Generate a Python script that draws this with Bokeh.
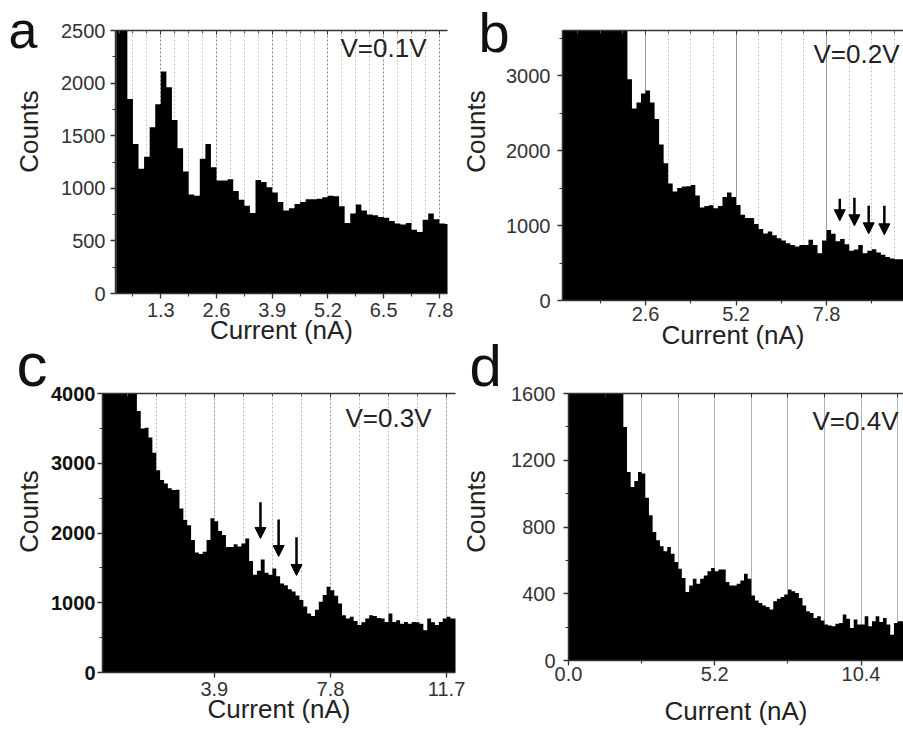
import numpy as np
from bokeh.plotting import figure
from bokeh.layouts import row, column
from bokeh.models import (FixedTicker, NumeralTickFormatter, Label, Arrow, NormalHead,
                          ColumnDataSource, LinearAxis, Range1d)
from bokeh.embed import file_html
from bokeh.resources import INLINE

FONT = "Liberation Sans"
PAGE_W, PAGE_H = 903, 729

# ---------------- data (histogram counts) ----------------
bin_width = 0.13  # nA

a_start = 0.26
a_counts = [2950, 2600, 1850, 1420, 1185, 1300, 1580, 1800, 2110, 1960,
            1650, 1380, 1160, 940, 930, 1280, 1420, 1200, 1075, 1075,
            1085, 975, 890, 835, 765, 1080, 1060, 1010, 960, 870,
            790, 810, 850, 870, 895, 895, 900, 915, 930, 925,
            830, 670, 760, 845, 790, 750, 745, 726, 720, 690,
            665, 655, 670, 605, 585, 700, 760, 705, 665, 660]

b_start = 0.13
b_counts = [4000, 4000, 4000, 4000, 4000, 4000, 4000, 4000, 4000, 4000,
            4000, 4000, 4000, 4000, 3800, 2950, 2560, 2640, 2760, 2800,
            2640, 2420, 2080, 1830, 1560, 1455, 1500, 1520, 1525, 1540,
            1400, 1240, 1260, 1270, 1230, 1260, 1380, 1440, 1380, 1275,
            1145, 1100, 1100, 1020, 955, 895, 920, 870, 830, 800,
            765, 740, 720, 740, 740, 810, 740, 630, 800, 940,
            890, 790, 820, 750, 665, 680, 740, 630, 665, 685,
            640, 610, 580, 560, 550, 550]

c_start = 0.13
c_counts = [4500, 4500, 4500, 4500, 4500, 4500, 4500, 4500, 4500, 3750,
            3500, 3510, 3370, 3150, 2900, 2760, 2710, 2640, 2615, 2620,
            2350, 2185, 2110, 1900, 1720, 1700, 1730, 1900, 2210, 2170,
            2030, 1970, 1800, 1800, 1840, 1805, 1850, 1920, 1600, 1400,
            1460, 1620, 1430, 1400, 1490, 1380, 1275, 1250, 1195, 1160,
            1105, 1040, 945, 845, 810, 900, 1015, 1110, 1230, 1180,
            1100, 990, 820, 775, 800, 740, 680, 720, 775, 820,
            810, 780, 775, 725, 845, 725, 750, 700, 725, 700,
            725, 720, 700, 605, 775, 720, 680, 725, 775, 800,
            775, 775]

d_start = 0.0
d_counts = [2000, 2000, 2000, 2000, 2000, 2000, 2000, 2000, 2000, 2000,
            2000, 2000, 2000, 2000, 2000, 1400, 1130, 1040, 1075, 1130,
            1120, 975, 870, 770, 720, 685, 655, 680, 640, 590,
            550, 495, 410, 450, 490, 460, 490, 510, 535, 555,
            535, 545, 545, 470, 450, 450, 460, 480, 520, 490,
            390, 360, 345, 330, 320, 305, 355, 370, 380, 395,
            425, 415, 405, 375, 330, 295, 285, 255, 265, 240,
            215, 210, 205, 220, 225, 275, 250, 195, 245, 215,
            215, 265, 205, 235, 265, 230, 255, 215, 155, 225,
            235, 235]

# arrows (x in nA, start / end in counts)
b_arrow_x = [8.18, 8.60, 9.01, 9.46]
b_arrow_y0 = [1357, 1370, 1263, 1263]
b_arrow_y1 = [1063, 996, 889, 876]
c_arrow_x = [5.45, 6.06, 6.66]
c_arrow_y0 = [2442, 2194, 1940]
c_arrow_y1 = [1922, 1663, 1391]

# tick labels / positions
a_xticks = [1.3, 2.6, 3.9, 5.2, 6.5, 7.8]
b_xticks = [2.6, 5.2, 7.8]
c_xticks = [3.9, 7.8, 11.7]
d_xticks = [0.0, 5.2, 10.4]
a_yticks = [0, 500, 1000, 1500, 2000, 2500]
b_yticks = [0, 1000, 2000, 3000]
c_yticks = [0, 1000, 2000, 3000, 4000]
d_yticks = [0, 400, 800, 1200, 1600]
voltages = ["V=0.1V", "V=0.2V", "V=0.3V", "V=0.4V"]
letters = ["a", "b", "c", "d"]
y_title = "Counts"
x_title = "Current (nA)"

MID = 0.3465  # distance from text-box middle to baseline, in em (Liberation Sans)


def mults(step, n, skip_every=None):
    out = []
    for k in range(1, n + 1):
        if skip_every and k % skip_every == 0:
            continue
        out.append(round(step * k, 4))
    return out


def build(cfg):
    W = cfg["bl"] + cfg["fw"] + cfg["br"]
    H = cfg["bt"] + cfg["fh"] + cfg["bb"]
    p = figure(width=W, height=H, frame_width=cfg["fw"], frame_height=cfg["fh"],
               x_range=Range1d(*cfg["xr"]), y_range=Range1d(*cfg["yr"]),
               output_backend="svg", toolbar_location=None,
               min_border_left=cfg["bl"], min_border_right=cfg["br"],
               min_border_top=cfg["bt"], min_border_bottom=cfg["bb"])
    p.title.visible = False
    p.outline_line_color = None
    p.background_fill_color = "white"
    p.border_fill_color = "white"

    counts = cfg["counts"]
    edges = cfg["start"] + bin_width * np.arange(len(counts) + 1)
    heights = np.array(list(counts) + [counts[-1]], dtype=float)
    p.varea_step(x=edges, y1=np.zeros(len(edges)), y2=heights,
                 step_mode="after", fill_color="black")

    xax = p.below[0]
    yax = p.left[0]
    xax.ticker = FixedTicker(ticks=cfg["xt"], minor_ticks=cfg["xm"])
    xax.formatter = NumeralTickFormatter(format="0.0")
    yax.ticker = FixedTicker(ticks=cfg["yt"], minor_ticks=cfg["ym"])
    yax.formatter = NumeralTickFormatter(format="0")
    for ax in (xax, yax):
        ax.axis_line_color = "#333333"
        ax.axis_line_width = 1.5
        ax.major_tick_line_color = "#333333"
        ax.minor_tick_line_color = "#333333"
        ax.major_tick_line_width = 1.3
        ax.minor_tick_line_width = 1.1
        ax.major_tick_in = 0
        ax.major_tick_out = 5
        ax.minor_tick_in = 0
        ax.minor_tick_out = 3
        ax.major_label_text_font = FONT
        ax.major_label_text_font_size = "20px"
        ax.major_label_text_color = "#333333"
    xax.major_label_standoff = cfg["xs"]
    yax.major_label_standoff = cfg["ys"]
    if cfg.get("ybold"):
        yax.major_label_text_font_style = "bold"
        yax.major_label_text_color = "#111111"
    xax.axis_label = x_title
    xax.axis_label_text_font = FONT
    xax.axis_label_text_font_size = "26px"
    xax.axis_label_text_font_style = "normal"
    xax.axis_label_text_color = "#222222"
    xax.axis_label_standoff = cfg["xls"]

    p.xgrid.ticker = FixedTicker(ticks=cfg["gmaj"], minor_ticks=cfg["gmin"])
    p.xgrid.grid_line_color = cfg["gmaj_color"]
    p.xgrid.grid_line_dash = cfg["gmaj_dash"]
    p.xgrid.grid_line_width = 1
    p.xgrid.minor_grid_line_color = cfg["gmin_color"]
    p.xgrid.minor_grid_line_dash = cfg["gmin_dash"]
    p.xgrid.minor_grid_line_width = 1
    p.ygrid.grid_line_color = None

    # top border with small inward ticks (no labels)
    top = LinearAxis(ticker=FixedTicker(ticks=cfg["gmaj"], minor_ticks=cfg["gmin"]),
                     major_label_text_font_size="0px", major_label_text_color=None,
                     major_label_standoff=0,
                     major_tick_in=4, major_tick_out=0, minor_tick_in=3, minor_tick_out=0,
                     axis_line_color="#333333", axis_line_width=1.5,
                     major_tick_line_color="#333333", minor_tick_line_color="#555555")
    p.add_layout(top, "above")

    fl = cfg["fl_abs"]
    fb = cfg["fb_abs"]
    vx, vbase = cfg["v_pos"]
    p.add_layout(Label(x=vx - fl, y=fb - (vbase - MID * 26), x_units="screen", y_units="screen",
                       text=cfg["vtext"], text_font=FONT, text_font_size="26px",
                       text_color="#222222", text_baseline="middle",
                       text_align="left"))

    if cfg.get("arrows"):
        ax_, y0, y1 = cfg["arrows"]
        src = ColumnDataSource(dict(x=ax_, y0=y0, y1=y1))
        p.add_layout(Arrow(end=NormalHead(size=11, fill_color="black", line_color="black",
                                          line_width=1),
                           x_start="x", y_start="y0", x_end="x", y_end="y1",
                           source=src, line_width=2.5, line_color="black"))
    return p


cfg_a = dict(counts=a_counts, start=a_start, xr=(0.243, 7.99), yr=(0, 2500),
             fw=332, fh=263, bl=115, br=6, bt=30, bb=67,
             xt=a_xticks, xm=mults(0.65, 12, 2), yt=a_yticks, ym=mults(250, 9, 2),
             gmaj=a_xticks, gmin=mults(0.325, 24, 4),
             gmaj_color="#8a8a8a", gmaj_dash="2 2", gmin_color="#c4c4c4", gmin_dash="2 2",
             xs=4, ys=5, xls=-5, fl_abs=115, fb_abs=293,
             v_pos=(340, 57), vtext=voltages[0])

cfg_b = dict(counts=b_counts, start=b_start, xr=(0.215, 10.01), yr=(0, 3600),
             fw=341, fh=270, bl=109, br=0, bt=25, bb=65,
             xt=b_xticks, xm=[1.3, 3.9, 6.5, 9.1], yt=b_yticks, ym=[500, 1500, 2500, 3500],
             gmaj=b_xticks, gmin=mults(0.65, 15, 4),
             gmaj_color="#9a9a9a", gmaj_dash="solid", gmin_color="#c4c4c4", gmin_dash="2 2",
             xs=1, ys=7, xls=-4, fl_abs=562, fb_abs=295,
             v_pos=(813, 58), vtext=voltages[1],
             arrows=(b_arrow_x, b_arrow_y0, b_arrow_y1))

cfg_c = dict(counts=c_counts, start=c_start, xr=(0.145, 12.0), yr=(0, 4000),
             fw=353, fh=279, bl=102, br=11, bt=33, bb=57,
             xt=c_xticks, xm=[], yt=c_yticks, ym=[500, 1500, 2500, 3500],
             gmaj=c_xticks, gmin=mults(0.975, 12, 4),
             gmaj_color="#8a8a8a", gmaj_dash="2 2", gmin_color="#b8b8b8", gmin_dash="2 2",
             xs=4, ys=2, xls=-5, ybold=True, fl_abs=102, fb_abs=672,
             v_pos=(345, 427), vtext=voltages[2],
             arrows=(c_arrow_x, c_arrow_y0, c_arrow_y1))

cfg_d = dict(counts=d_counts, start=d_start, xr=(0.0, 11.91), yr=(0, 1600),
             fw=335, fh=267, bl=102, br=0, bt=31, bb=71,
             xt=d_xticks, xm=[2.6, 7.8], yt=d_yticks, ym=[200, 600, 1000, 1400],
             gmaj=mults(1.3, 9), gmin=[],
             gmaj_color="#b4b4b4", gmaj_dash="solid", gmin_color="#c4c4c4", gmin_dash="2 2",
             xs=1, ys=8, xls=12, fl_abs=568, fb_abs=658,
             v_pos=(812, 428), vtext=voltages[3])

pa, pb, pc, pd = build(cfg_a), build(cfg_b), build(cfg_c), build(cfg_d)
panels = column(row(pa, pb), row(pc, pd))

# transparent overlay (page-pixel coordinates) for panel letters and y titles
ov = figure(width=PAGE_W, height=PAGE_H, x_range=Range1d(0, PAGE_W), y_range=Range1d(PAGE_H, 0),
            x_axis_type=None, y_axis_type=None, toolbar_location=None,
            output_backend="svg", min_border=0)
ov.title.visible = False
ov.outline_line_color = None
ov.background_fill_color = None
ov.border_fill_color = None
ov.margin = (-PAGE_H, 0, 0, 0)

# (left x, baseline y, font px)
letter_pos = [(8, 47.5, 52), (478, 51, 56), (16, 385, 62), (469, 385, 58)]
for t, (lx, lb, fs) in zip(letters, letter_pos):
    ov.add_layout(Label(x=lx, y=lb - MID * fs, text=t, text_font=FONT,
                        text_font_size=f"{fs}px", text_color="#111111",
                        text_baseline="middle", text_align="left"))

# (baseline x, centre y) of the rotated y titles
counts_pos = [(38, 131), (485, 131), (38, 511), (485, 511)]
for cx, cy in counts_pos:
    ov.add_layout(Label(x=cx - MID * 26, y=cy, text=y_title, text_font=FONT,
                        text_font_size="26px", text_color="#222222", angle=np.pi / 2,
                        text_baseline="middle", text_align="center"))

layout = column(panels, ov)

open("out.html", "w").write(file_html(layout, INLINE))
